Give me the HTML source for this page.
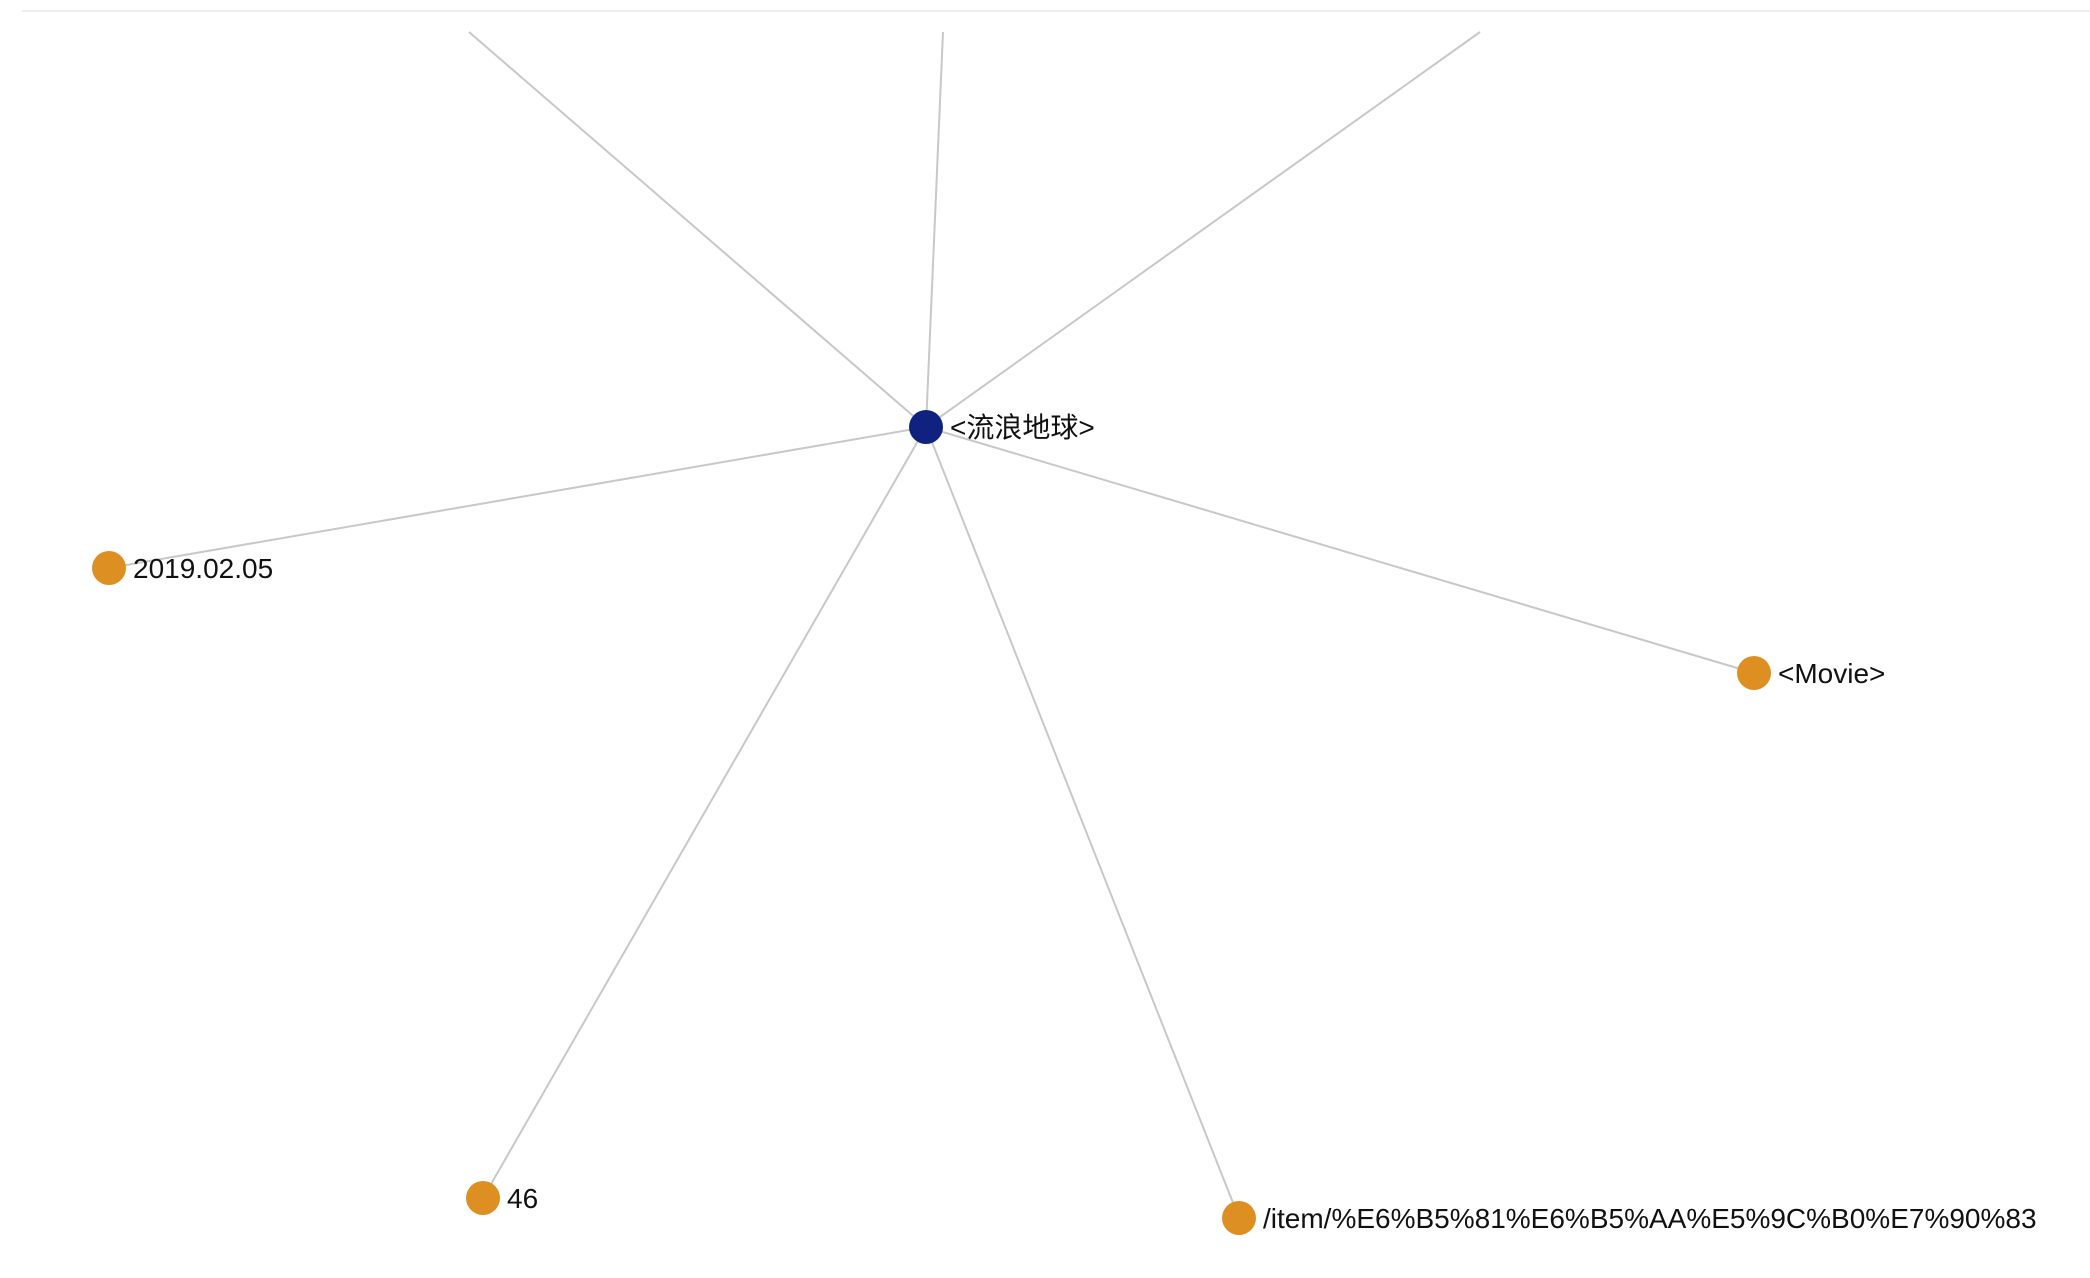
<!DOCTYPE html>
<html><head><meta charset="utf-8"><style>
body{margin:0;background:#fff;width:2090px;height:1278px;overflow:hidden}
svg{display:block}
text{font-family:"Liberation Sans","Noto Sans CJK SC",sans-serif;font-size:28px;fill:#111}
</style></head><body>
<svg width="2090" height="1278">
<line x1="22" y1="11" x2="2090" y2="11" stroke="#eeeeee" stroke-width="2"/>
<g id="edges"></g><g id="nodes"></g>
</svg>
<script>
const labels=["<流浪地球>","2019.02.05","<Movie>","46","/item/%E6%B5%81%E6%B5%AA%E5%9C%B0%E7%90%83"];
const nodeX=[926,109,1754,483,1239];
const nodeY=[427,568,673,1198,1218];
const offX=[469,943,1480];
const offY=[32,32,32];
const ns="http://www.w3.org/2000/svg";
const E=document.getElementById('edges'),N=document.getElementById('nodes');
function line(x2,y2){const l=document.createElementNS(ns,'line');
l.setAttribute('x1',nodeX[0]);l.setAttribute('y1',nodeY[0]);l.setAttribute('x2',x2);l.setAttribute('y2',y2);
l.setAttribute('stroke','#c8c8c8');l.setAttribute('stroke-width','2');


E.appendChild(l);}
for(let i=1;i<labels.length;i++)line(nodeX[i],nodeY[i]);
for(let i=0;i<offX.length;i++)line(offX[i],offY[i]);
for(let i=0;i<labels.length;i++){
const c=document.createElementNS(ns,'circle');
c.setAttribute('cx',nodeX[i]);c.setAttribute('cy',nodeY[i]);c.setAttribute('r',17);
c.setAttribute('fill',i===0?'#10227f':'#dd8f22');


N.appendChild(c);
const t=document.createElementNS(ns,'text');
t.setAttribute('x',nodeX[i]+24);t.setAttribute('y',nodeY[i]+10);t.textContent=labels[i];


N.appendChild(t);}
</script>
</body></html>
